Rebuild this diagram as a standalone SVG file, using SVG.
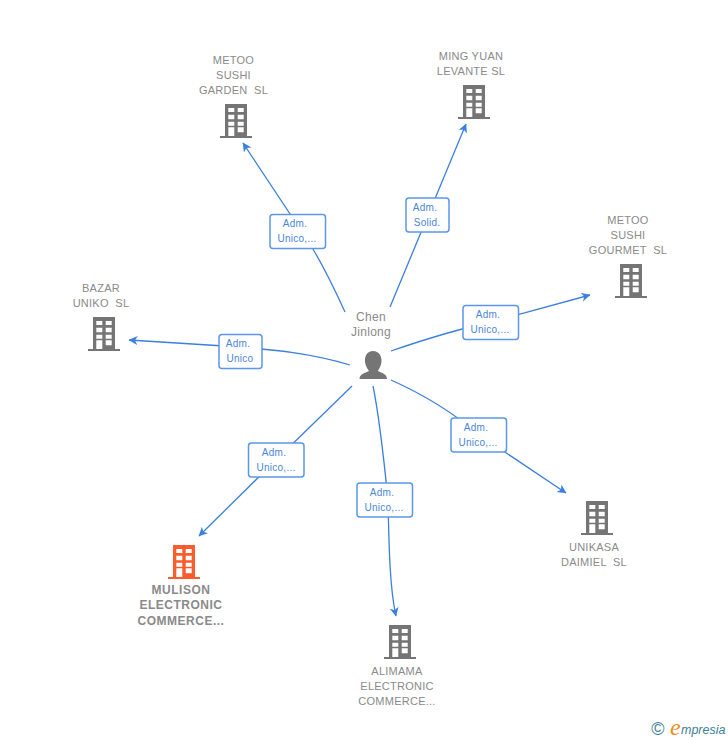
<svg xmlns="http://www.w3.org/2000/svg" width="728" height="740" viewBox="0 0 728 740">
<style>
.c{fill:none;stroke:#3b7fe0;stroke-width:1.3}
.l{fill:#fff;stroke:#5b96ea;stroke-width:1.5}
.lt{font:10px "Liberation Sans",Arial,sans-serif;fill:#4a86dc;text-anchor:middle;letter-spacing:.25px}
.nt{font:11px "Liberation Sans",Arial,sans-serif;fill:#8a8a8a;text-anchor:middle;letter-spacing:.25px;white-space:pre}
.b{font-weight:bold;font-size:12px;letter-spacing:.5px}
.p{font-size:12px;letter-spacing:.3px}
</style>
<defs>
<marker id="a" markerWidth="12" markerHeight="12" refX="8.500" refY="4.500" orient="auto" markerUnits="userSpaceOnUse"><path d="M0 0L9 4.500L0 9L2.500 4.500Z" fill="#3b7fe0"/></marker>
<g id="bld"><path fill-rule="evenodd" d="M-11 -17H11V15H16V17H-16V15H-11ZM-7.700 -13V-9H-1.700V-13ZM1.700 -13V-9H7.700V-13ZM-7.700 -6.300V-1.700H-1.700V-6.300ZM1.700 -6.300V-1.700H7.700V-6.300ZM-7.700 .7V4.700H-1.700V.7ZM1.700 .7V4.700H7.700V.7ZM-7.700 6.300V15H-1.700V6.300ZM1.700 6.300V11.300H7.700V6.300Z"/></g>
</defs>
<g id="connectors">
<path class="c" marker-end="url(#a)" d="M345 312C335 290 322 262 306 238L243 143"/>
<path class="c" marker-end="url(#a)" d="M390 307L466 124"/>
<path class="c" marker-end="url(#a)" d="M391 351C420 341 450 331 491 322L590 295"/>
<path class="c" marker-end="url(#a)" d="M391 380C420 393 450 410 478 434L566 493"/>
<path class="c" marker-end="url(#a)" d="M373 386C380 420 385 470 388 500C389 550 390 590 396 616"/>
<path class="c" marker-end="url(#a)" d="M352 386L276 460L199 536"/>
<path class="c" marker-end="url(#a)" d="M350 365C310 353 275 350 240 347L129 340"/>
</g>
<g id="edge-labels">
<g><rect class="l" x="270" y="214.500" width="55.500" height="34" rx="3"/><text class="lt" x="295" y="227">Adm.</text><text class="lt" x="297" y="242">Unico,...</text></g>
<g><rect class="l" x="406" y="198" width="43" height="34" rx="3"/><text class="lt" x="425" y="211">Adm.</text><text class="lt" x="427" y="226">Solid.</text></g>
<g><rect class="l" x="463" y="305.500" width="55.500" height="34" rx="3"/><text class="lt" x="488" y="318">Adm.</text><text class="lt" x="490" y="333">Unico,...</text></g>
<g><rect class="l" x="451" y="418" width="55.500" height="34" rx="3"/><text class="lt" x="476" y="431">Adm.</text><text class="lt" x="478" y="446">Unico,...</text></g>
<g><rect class="l" x="357" y="483" width="55.500" height="34" rx="3"/><text class="lt" x="382" y="496">Adm.</text><text class="lt" x="384" y="511">Unico,...</text></g>
<g><rect class="l" x="248.500" y="443" width="55.500" height="34" rx="3"/><text class="lt" x="274" y="456">Adm.</text><text class="lt" x="276" y="471">Unico,...</text></g>
<g><rect class="l" x="219" y="334.500" width="43" height="34" rx="3"/><text class="lt" x="238" y="347">Adm.</text><text class="lt" x="240" y="362">Unico</text></g>
</g>
<g id="person">
<text class="nt p" x="371" y="321">Chen</text><text class="nt p" x="371" y="336">Jinlong</text>
<path fill="#757575" d="M373 351C379 351 382 356 381.500 362C381 366 379 369 378 371C382 373 387 374 387 379H359.500C359.500 374 365 373 369 371C367.500 369 365.500 366 365 362C364.500 356 367 351 373 351Z"/>
</g>
<g id="metoo-garden"><text class="nt" x="233.500" y="64">METOO</text><text class="nt" x="233.500" y="79">SUSHI</text><text class="nt" x="233.500" y="94">GARDEN  SL</text><use href="#bld" x="236" y="121" fill="#757575"/></g>
<g id="ming-yuan"><text class="nt" x="471" y="60">MING YUAN</text><text class="nt" x="471" y="75">LEVANTE SL</text><use href="#bld" x="474" y="102" fill="#757575"/></g>
<g id="metoo-gourmet"><text class="nt" x="628" y="224">METOO</text><text class="nt" x="628" y="239">SUSHI</text><text class="nt" x="628" y="254">GOURMET  SL</text><use href="#bld" x="631" y="281" fill="#757575"/></g>
<g id="bazar"><text class="nt" x="101" y="292">BAZAR</text><text class="nt" x="101" y="307">UNIKO  SL</text><use href="#bld" x="104" y="334" fill="#757575"/></g>
<g id="unikasa"><use href="#bld" x="597" y="518" fill="#757575"/><text class="nt" x="594" y="551">UNIKASA</text><text class="nt" x="594" y="566">DAIMIEL  SL</text></g>
<g id="alimama"><use href="#bld" x="400" y="642" fill="#757575"/><text class="nt" x="397" y="675">ALIMAMA</text><text class="nt" x="397" y="690">ELECTRONIC</text><text class="nt" x="397" y="705">COMMERCE...</text></g>
<g id="mulison"><use href="#bld" x="184" y="562" fill="#fb5c2b"/><text class="nt b" x="181" y="594">MULISON</text><text class="nt b" x="181" y="609">ELECTRONIC</text><text class="nt b" x="181" y="625">COMMERCE...</text></g>
<g id="brand"><text x="658" y="735" font-family="Liberation Sans,sans-serif" font-size="18" fill="#3d7f95" text-anchor="middle">©</text>
<text x="670" y="735" font-family="Liberation Serif,serif" font-style="italic" font-size="24" fill="#ef8a1d">e</text><text x="681" y="734" font-family="Liberation Sans,sans-serif" font-style="italic" font-size="12.500" fill="#3d7f95">mpresia</text></g>
</svg>
